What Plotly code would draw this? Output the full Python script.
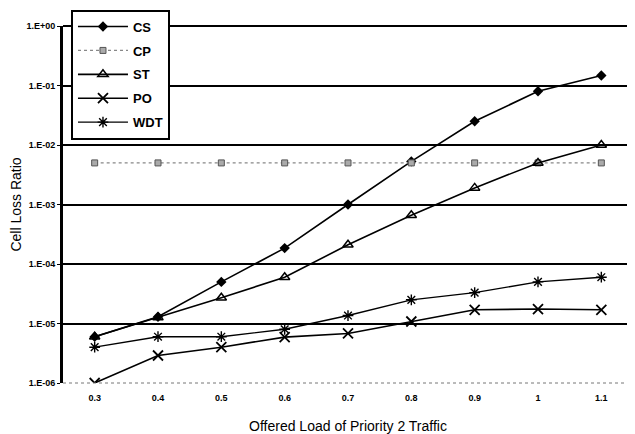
import plotly.graph_objects as go

loads = ["0.3", "0.4", "0.5", "0.6", "0.7", "0.8", "0.9", "1", "1.1"]
cs = [6.0e-6, 1.3e-5, 5.0e-5, 1.85e-4, 1.0e-3, 5.3e-3, 2.5e-2, 8.0e-2, 1.47e-1]
cp = [5.0e-3, 5.0e-3, 5.0e-3, 5.0e-3, 5.0e-3, 5.0e-3, 5.0e-3, 5.0e-3, 5.0e-3]
st = [6.0e-6, 1.26e-5, 2.7e-5, 6.0e-5, 2.1e-4, 6.6e-4, 1.9e-3, 5.0e-3, 1.0e-2]
po = [1.0e-6, 2.9e-6, 4.0e-6, 5.9e-6, 6.8e-6, 1.08e-5, 1.7e-5, 1.75e-5, 1.7e-5]
wdt = [4.0e-6, 6.0e-6, 6.0e-6, 8.0e-6, 1.36e-5, 2.5e-5, 3.3e-5, 5.0e-5, 6.0e-5]

ytickvals = [1e-6, 1e-5, 1e-4, 1e-3, 1e-2, 1e-1, 1]
yticktext = ["1.E-06", "1.E-05", "1.E-04", "1.E-03", "1.E-02", "1.E-01", "1.E+00"]

fig = go.Figure()

series = [
    ("CS", cs, dict(color="black", width=1.6), dict(symbol="diamond", size=8, color="black")),
    ("CP", cp, dict(color="#888888", width=1.2, dash="dot"),
     dict(symbol="square", size=6, color="#aaaaaa", line=dict(color="#555555", width=1))),
    ("ST", st, dict(color="black", width=1.6),
     dict(symbol="triangle-up-open", size=9, color="black", line=dict(width=1.5))),
    ("PO", po, dict(color="black", width=1.6),
     dict(symbol="x-thin", size=10, color="black", line=dict(color="black", width=1.8))),
    ("WDT", wdt, dict(color="black", width=1.4),
     dict(symbol="asterisk", size=9, color="black", line=dict(color="black", width=1.4))),
]

for i, (name, vals, ln, mk) in enumerate(series):
    fig.add_trace(go.Scatter(
        x=loads, y=vals, name=name, mode="lines+markers",
        line=ln, marker=mk, legendgroup=f"g{i}",
    ))

fig.update_layout(
    width=627, height=426,
    margin=dict(l=55, r=2, t=16, b=51),
    paper_bgcolor="white", plot_bgcolor="white",
    font=dict(family="Arial, Liberation Sans, sans-serif", color="black"),
    showlegend=True,
    legend=dict(
        x=0.014, y=1.046, xanchor="left", yanchor="top",
        bgcolor="white", bordercolor="black", borderwidth=2,
        font=dict(size=13, family="Arial, Liberation Sans, sans-serif", color="black", weight="bold"),
        tracegroupgap=4, itemwidth=50,
    ),
    xaxis=dict(
        type="category", range=[-0.5, 8.5],
        showgrid=False, zeroline=False,
        showline=False, ticks="",
        ticklabelstandoff=8,
        tickfont=dict(size=9, weight="bold"),
        title=dict(text="Offered Load of Priority 2 Traffic", font=dict(size=14), standoff=19),
    ),
    yaxis=dict(
        type="log", range=[-6, 0],
        tickvals=ytickvals, ticktext=yticktext,
        showgrid=True, gridcolor="black", gridwidth=2,
        showline=True, linecolor="black", linewidth=3,
        ticks="outside", ticklen=3, tickcolor="black",
        zeroline=False,
        tickfont=dict(size=9, weight="bold"),
        title=dict(text="Cell Loss Ratio", font=dict(size=14), standoff=4),
    ),
    shapes=[
        dict(type="line", xref="paper", yref="paper", x0=0, x1=1, y0=1, y1=1,
             line=dict(color="black", width=2), layer="below"),
        dict(type="line", xref="paper", yref="paper", x0=1, x1=1, y0=0, y1=1,
             line=dict(color="#777777", width=1, dash="dot")),
        dict(type="line", xref="paper", yref="paper", x0=0, x1=1, y0=0, y1=0,
             line=dict(color="#777777", width=1, dash="dot")),
    ],
)

fig.write_html("out.html")
